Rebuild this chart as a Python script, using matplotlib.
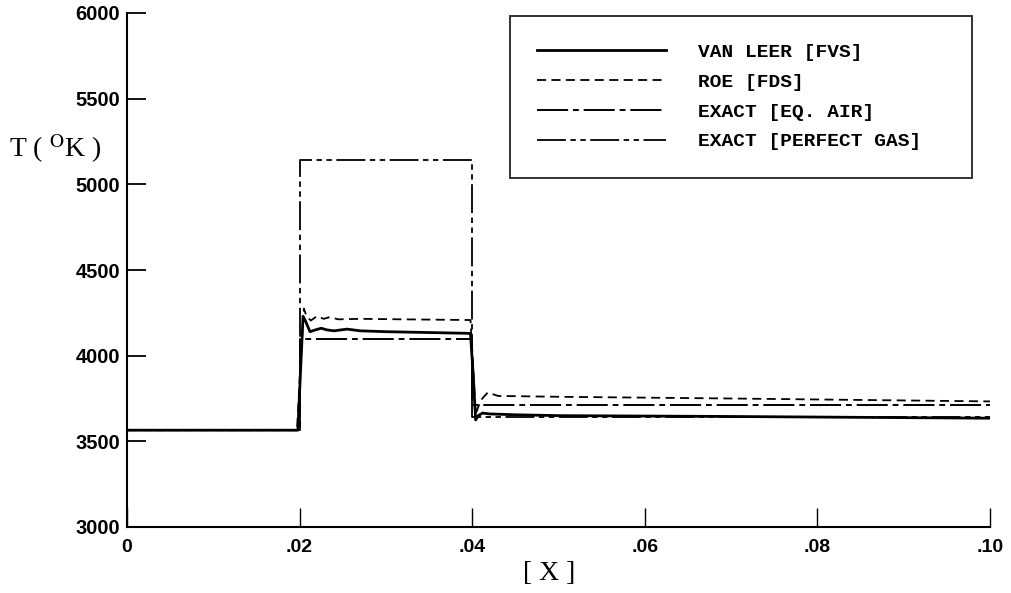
import matplotlib
matplotlib.use("Agg")
import matplotlib.pyplot as plt

# ---- data ----
x_vanleer = [0.0, 0.0198, 0.0201, 0.0204, 0.0207, 0.0212, 0.0218, 0.0225, 0.0232, 0.0240,
             0.0255, 0.0270, 0.0300, 0.0350, 0.0398, 0.0401, 0.0404, 0.0407, 0.0412,
             0.0420, 0.0450, 0.0500, 0.0700, 0.1000]
t_vanleer = [3565, 3565, 3900, 4230, 4200, 4140, 4150, 4160, 4150, 4145,
             4155, 4145, 4140, 4135, 4130, 3900, 3625, 3650, 3665,
             3660, 3655, 3650, 3645, 3635]

x_roe = [0.0, 0.0197, 0.0201, 0.0205, 0.0208, 0.0213, 0.0220, 0.0228, 0.0235, 0.0245,
         0.0270, 0.0320, 0.0398, 0.0401, 0.0404, 0.0410, 0.0418, 0.0430, 0.0500,
         0.0700, 0.1000]
t_roe = [3565, 3565, 3950, 4275, 4230, 4205, 4230, 4215, 4225, 4212,
         4215, 4212, 4208, 3950, 3660, 3740, 3785, 3765, 3760,
         3750, 3733]

x_eqair = [0.0, 0.0200, 0.0200, 0.0400, 0.0400, 0.1000]
t_eqair = [3565, 3565, 4097, 4097, 3710, 3710]

x_pgas = [0.0, 0.0200, 0.0200, 0.0400, 0.0400, 0.1000]
t_pgas = [3565, 3565, 5140, 5140, 3640, 3640]

labels = ["VAN LEER [FVS]", "ROE [FDS]", "EXACT [EQ. AIR]", "EXACT [PERFECT GAS]"]
xticks = [0.0, 0.02, 0.04, 0.06, 0.08, 0.10]
xtick_labels = ["0", ".02", ".04", ".06", ".08", ".10"]
yticks = [3000, 3500, 4000, 4500, 5000, 5500, 6000]

# ---- figure ----
plt.rcParams["mathtext.fontset"] = "stix"
W, H = 1012, 593
fig = plt.figure(figsize=(W / 100, H / 100), dpi=100)
ax = fig.add_axes([127 / W, 1 - 527 / H, 863 / W, 514 / H])

ax.plot(x_vanleer, t_vanleer, color="black", lw=2.0, ls="-", label=labels[0])
ax.plot(x_roe, t_roe, color="black", lw=1.3, ls=(0, (5, 3)), label=labels[1])
ax.plot(x_eqair, t_eqair, color="black", lw=1.4, ls=(0, (16, 2.5, 3, 2.5)), label=labels[2])
ax.plot(x_pgas, t_pgas, color="black", lw=1.3, ls=(0, (16, 2.5, 3, 2.5, 3, 2.5)), label=labels[3])

ax.set_xlim(0, 0.10)
ax.set_ylim(3000, 6000)
ax.set_xticks(xticks)
ax.set_xticklabels(xtick_labels)
ax.set_yticks(yticks)

for s in ("top", "right"):
    ax.spines[s].set_visible(False)
for s in ("left", "bottom"):
    ax.spines[s].set_linewidth(1.5)

ax.tick_params(axis="y", direction="in", length=14, width=1.3, pad=5,
               labelsize=14.5)
ax.tick_params(axis="x", direction="in", length=14, width=1.0, pad=9,
               labelsize=14)
for lab in ax.get_xticklabels() + ax.get_yticklabels():
    lab.set_fontfamily("Liberation Sans")
    lab.set_fontweight("bold")

fig.text(549 / W, 1 - 573 / H, "[ X ]", fontsize=20, family="Liberation Serif",
         ha="center", va="center")
fig.text(9 / W, 1 - 157 / H, r"T ( $^{\mathrm{O}}$K )", fontsize=20,
         family="Liberation Serif", ha="left", va="baseline")

# legend box spanning x = 510..972 px, top at 16 px
lx0 = (510 - 127) / 863
lw_ = (972 - 510) / 863
ltop = (527 - 16) / 514
lh = 162 / 514
leg = ax.legend(loc="upper left", bbox_to_anchor=(lx0, ltop - lh, lw_, lh),
                mode="expand", borderaxespad=0,
                prop={"family": "Liberation Mono", "size": 14, "weight": "bold"},
                frameon=True, fancybox=False, handlelength=6.6,
                handletextpad=1.65, borderpad=1.4, labelspacing=0.63)
leg.get_frame().set_edgecolor("black")
leg.get_frame().set_linewidth(1.4)

fig.savefig("out.png", dpi=100)
